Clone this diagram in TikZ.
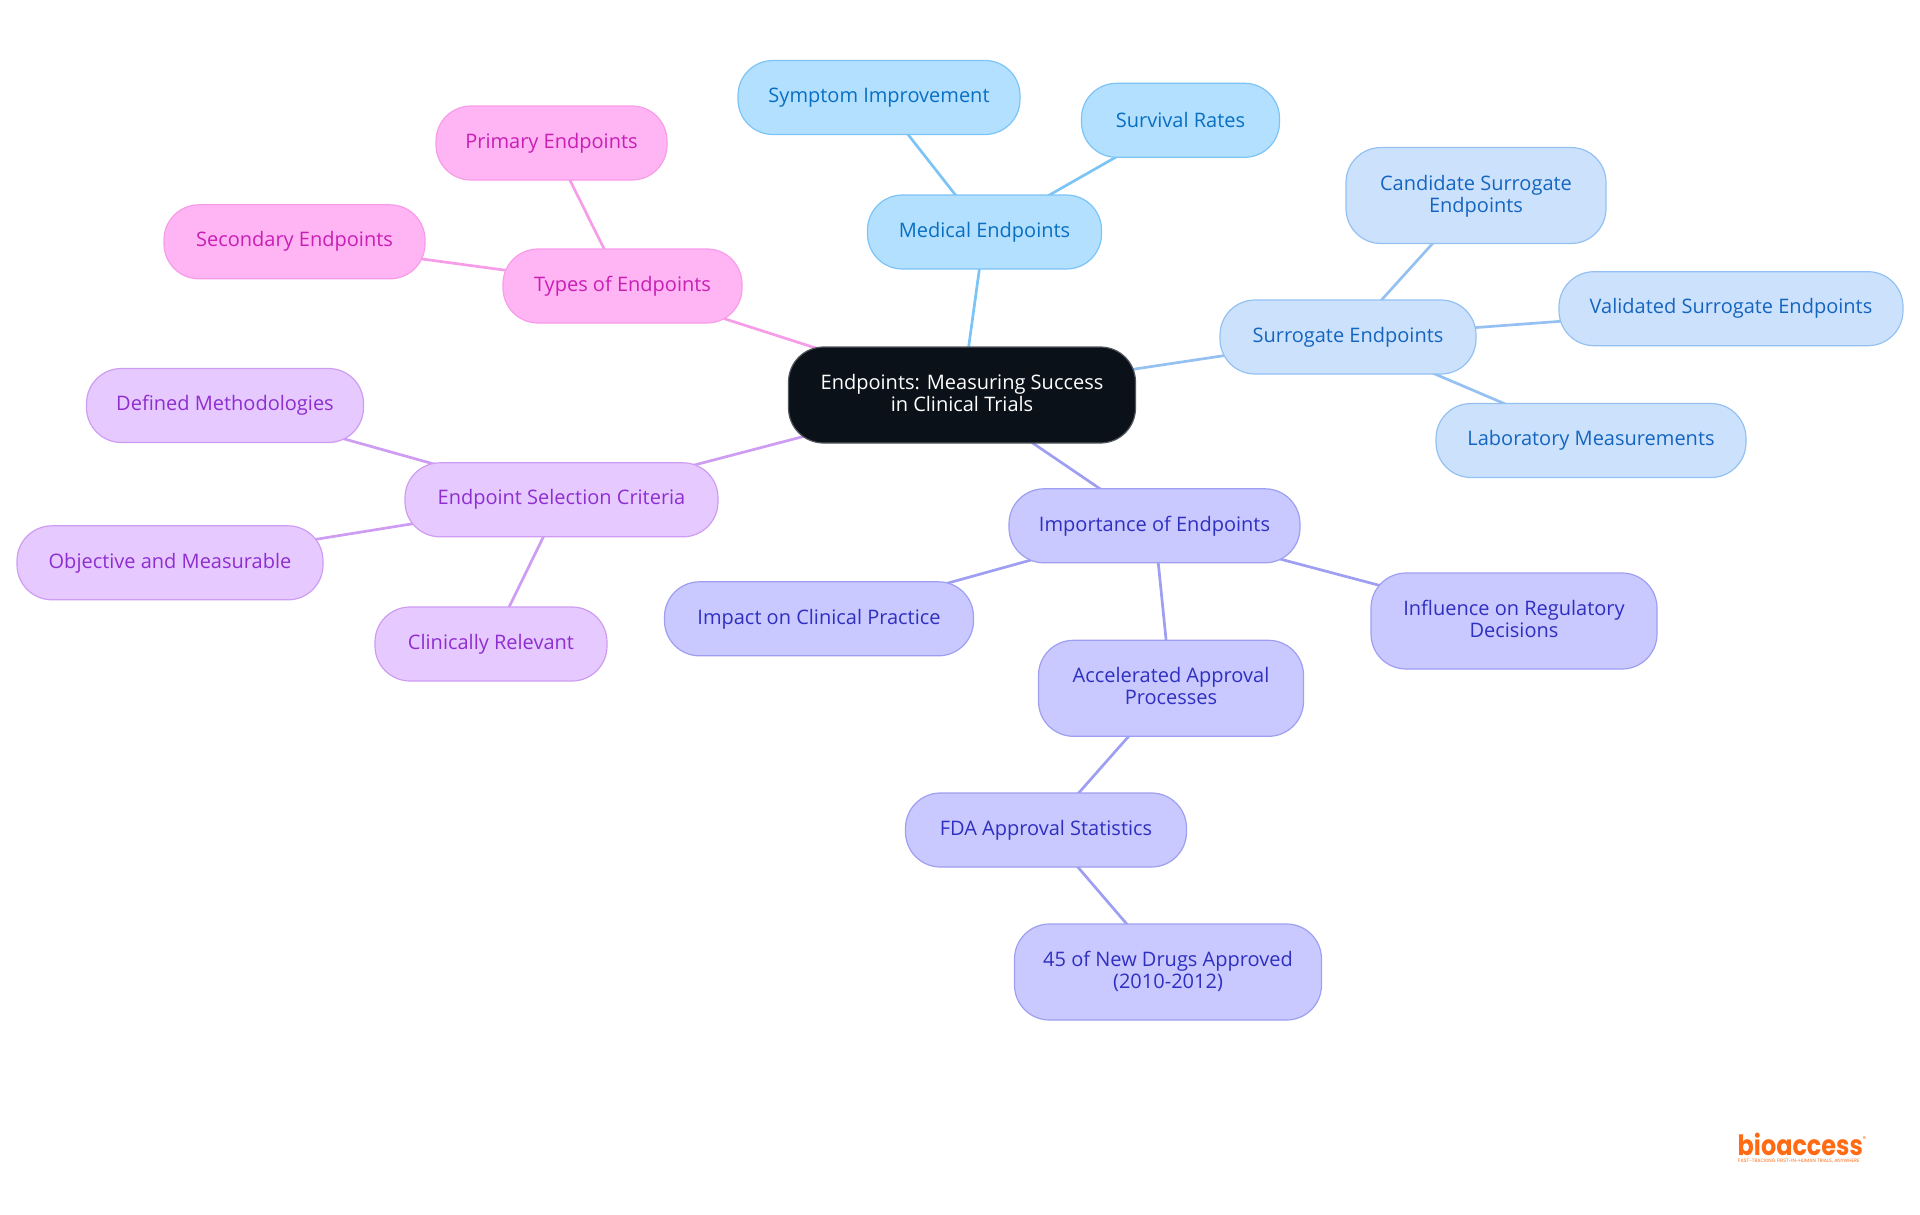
\documentclass[tikz,border=0pt]{standalone}
\usepackage{fontspec}
\setmainfont{Open Sans}
\newfontfamily\logofont{Poppins}
\usetikzlibrary{backgrounds}
\definecolor{medF}{HTML}{B3E0FF}\definecolor{medL}{HTML}{7CC4F5}\definecolor{medT}{HTML}{0A6FC2}
\definecolor{surF}{HTML}{CCE2FC}\definecolor{surL}{HTML}{94C1F2}\definecolor{surT}{HTML}{1565C0}
\definecolor{impF}{HTML}{C9C9FF}\definecolor{impL}{HTML}{9E9EF2}\definecolor{impT}{HTML}{2F2FC0}
\definecolor{typF}{HTML}{FFB5F4}\definecolor{typL}{HTML}{F79CE8}\definecolor{typT}{HTML}{C81EB4}
\definecolor{selF}{HTML}{E6CAFF}\definecolor{selL}{HTML}{CE9CF2}\definecolor{selT}{HTML}{8E2ED0}
\definecolor{rootF}{HTML}{0B1119}\definecolor{logoC}{HTML}{FF6A13}
\tikzset{
  box/.style={rectangle,rounded corners=35pt,line width=1.2pt,inner sep=0pt,align=center,minimum height=74pt,font=\fontsize{20}{22}\selectfont},
  tall/.style={minimum height=96pt,text depth=4pt},
  med/.style={box,fill=medF,draw=medL,text=medT},
  sur/.style={box,fill=surF,draw=surL,text=surT},
  imp/.style={box,fill=impF,draw=impL,text=impT},
  typ/.style={box,fill=typF,draw=typL,text=typT},
  sel/.style={box,fill=selF,draw=selL,text=selT},
  rootbox/.style={box,tall,fill=rootF,draw=rootF!70!white,text=white},
  medE/.style={draw=medL,line width=2.7pt},
  surE/.style={draw=surL,line width=2.7pt},
  impE/.style={draw=impL,line width=2.7pt},
  typE/.style={draw=typL,line width=2.7pt},
  selE/.style={draw=selL,line width=2.7pt},
}
\begin{document}
\begin{tikzpicture}[x=1pt,y=-1pt]
\useasboundingbox (0,0) rectangle (1920,1215);
\node[rootbox,minimum width=347pt] (root) at (962,395) {Endpoints: Measuring Success\\in Clinical Trials};
\node[med,minimum width=234pt] (medical) at (984.5,232) {Medical Endpoints};
\node[med,minimum width=282pt] (symptom) at (879,97.5) {Symptom Improvement};
\node[med,minimum width=198pt] (survival) at (1180.5,120.3) {Survival Rates};
\node[sur,minimum width=256pt] (surrogate) at (1348,337) {Surrogate Endpoints};
\node[sur,tall,minimum width=260pt] (candidate) at (1476,195.5) {Candidate Surrogate\\Endpoints};
\node[sur,minimum width=344pt] (validated) at (1731,308.7) {Validated Surrogate Endpoints};
\node[sur,minimum width=310pt] (laboratory) at (1591,440.5) {Laboratory Measurements};
\node[imp,minimum width=291pt] (importance) at (1154.5,525.8) {Importance of Endpoints};
\node[imp,minimum width=309pt] (impact) at (819,618.8) {Impact on Clinical Practice};
\node[imp,tall,minimum width=286pt] (influence) at (1514,621) {Influence on Regulatory\\Decisions};
\node[imp,tall,minimum width=265pt] (accelerated) at (1171,688.3) {Accelerated Approval\\Processes};
\node[imp,minimum width=281pt] (fda) at (1046,830) {FDA Approval Statistics};
\node[imp,tall,minimum width=307pt] (drugs) at (1168,972) {45 of New Drugs Approved\\(2010-2012)};
\node[typ,minimum width=239pt] (types) at (622.5,286) {Types of Endpoints};
\node[typ,minimum width=231pt] (primary) at (551.5,143) {Primary Endpoints};
\node[typ,minimum width=261pt] (secondary) at (294.5,241.8) {Secondary Endpoints};
\node[sel,minimum width=313pt] (selection) at (561.5,499.8) {Endpoint Selection Criteria};
\node[sel,minimum width=277pt] (defined) at (225,405.5) {Defined Methodologies};
\node[sel,minimum width=306pt] (objective) at (170,562.8) {Objective and Measurable};
\node[sel,minimum width=232pt] (clinically) at (491,644) {Clinically Relevant};
\node[text=logoC,font=\logofont\bfseries\fontsize{28}{28}\selectfont,inner sep=0pt,anchor=base west,xscale=0.855] (logo) at (1737.5,1155) {bioaccess};
\node[text=logoC,font=\logofont\fontsize{7}{7}\selectfont,inner sep=0pt,anchor=west] (reg) at (1862.5,1139) {®};
\node[text=logoC,font=\logofont\fontsize{4.8}{5}\selectfont,inner sep=0pt,anchor=west] (tag) at (1738,1161.5) {FAST-TRACKING FIRST-IN-HUMAN TRIALS, ANYWHERE};
\begin{pgfonlayer}{background}
\draw[medE] (root.center) -- (medical.center);
\draw[medE] (medical.center) -- (symptom.center);
\draw[medE] (medical.center) -- (survival.center);
\draw[surE] (root.center) -- (surrogate.center);
\draw[surE] (surrogate.center) -- (candidate.center);
\draw[surE] (surrogate.center) -- (validated.center);
\draw[surE] (surrogate.center) -- (laboratory.center);
\draw[impE] (root.center) -- (importance.center);
\draw[impE] (importance.center) -- (impact.center);
\draw[impE] (importance.center) -- (influence.center);
\draw[impE] (importance.center) -- (accelerated.center);
\draw[impE] (accelerated.center) -- (fda.center);
\draw[impE] (fda.center) -- (drugs.center);
\draw[typE] (root.center) -- (types.center);
\draw[typE] (types.center) -- (primary.center);
\draw[typE] (types.center) -- (secondary.center);
\draw[selE] (root.center) -- (selection.center);
\draw[selE] (selection.center) -- (defined.center);
\draw[selE] (selection.center) -- (objective.center);
\draw[selE] (selection.center) -- (clinically.center);
\end{pgfonlayer}
\end{tikzpicture}
\end{document}
